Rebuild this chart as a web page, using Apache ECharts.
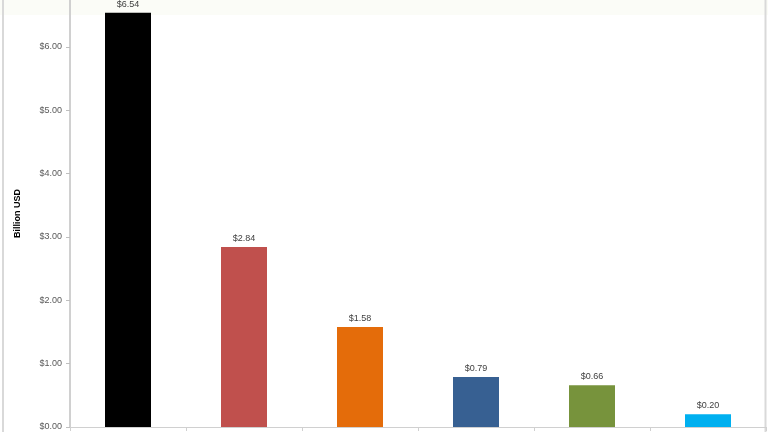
<!DOCTYPE html>
<html>
<head>
<meta charset="utf-8">
<script src="https://cdn.jsdelivr.net/npm/echarts@6/dist/echarts.min.js"></script>
<style>
html,body{margin:0;padding:0;background:#fff;}
#c{width:768px;height:432px;}
</style>
</head>
<body>
<div id="c"></div>
<script>
const categories = ["Category 1", "Category 2", "Category 3", "Category 4", "Category 5", "Category 6"];
const values = [6.54, 2.84, 1.58, 0.79, 0.66, 0.20];
const barColors = ["#000000", "#c0504d", "#e46c0a", "#376092", "#77933c", "#00b0f0"];
const yMin = 0;
const yMax = 6.74;
const yStep = 1;

const chart = echarts.init(document.getElementById('c'), null, {renderer: 'canvas'});
chart.setOption({
  animation: false,
  backgroundColor: '#ffffff',
  graphic: [
    {type: 'rect', left: 0, top: 0, shape: {width: 768, height: 15}, style: {fill: '#fbfcf7'}, z: -10},
    {type: 'line', shape: {x1: 3, y1: 0, x2: 3, y2: 432}, style: {stroke: '#d9d9d9', lineWidth: 2}},
    {type: 'line', shape: {x1: 765.5, y1: 0, x2: 765.5, y2: 432}, style: {stroke: '#d9d9d9', lineWidth: 2}}
  ],
  grid: {left: 70, right: 2, top: 0, bottom: 5, containLabel: false},
  xAxis: {
    type: 'category',
    data: categories,
    axisLine: {lineStyle: {color: '#d0d0d0', width: 1}},
    axisTick: {show: true, length: 4, lineStyle: {color: '#d0d0d0'}},
    axisLabel: {show: false}
  },
  yAxis: {
    type: 'value',
    min: yMin,
    max: yMax,
    interval: yStep,
    name: 'Billion USD',
    nameLocation: 'middle',
    nameGap: 48,
    nameTextStyle: {fontFamily: 'Liberation Sans', fontSize: 9, fontWeight: 'bold', color: '#000000'},
    axisLine: {show: true, lineStyle: {color: '#d0d0d0', width: 2}},
    axisTick: {show: true, length: 4, lineStyle: {color: '#bfbfbf'}},
    splitLine: {show: false},
    axisLabel: {
      fontFamily: 'Liberation Sans', fontSize: 9, color: '#595959', margin: 8,
      showMaxLabel: false,
      formatter: v => '$' + v.toFixed(2)
    }
  },
  series: [{
    type: 'bar',
    barWidth: 46,
    data: values.map((v, i) => ({value: v, itemStyle: {color: barColors[i]}})),
    label: {
      show: true, position: 'top', distance: 4,
      fontFamily: 'Liberation Sans', fontSize: 9, color: '#404040',
      formatter: p => '$' + p.value.toFixed(2)
    }
  }]
});
</script>
</body>
</html>
